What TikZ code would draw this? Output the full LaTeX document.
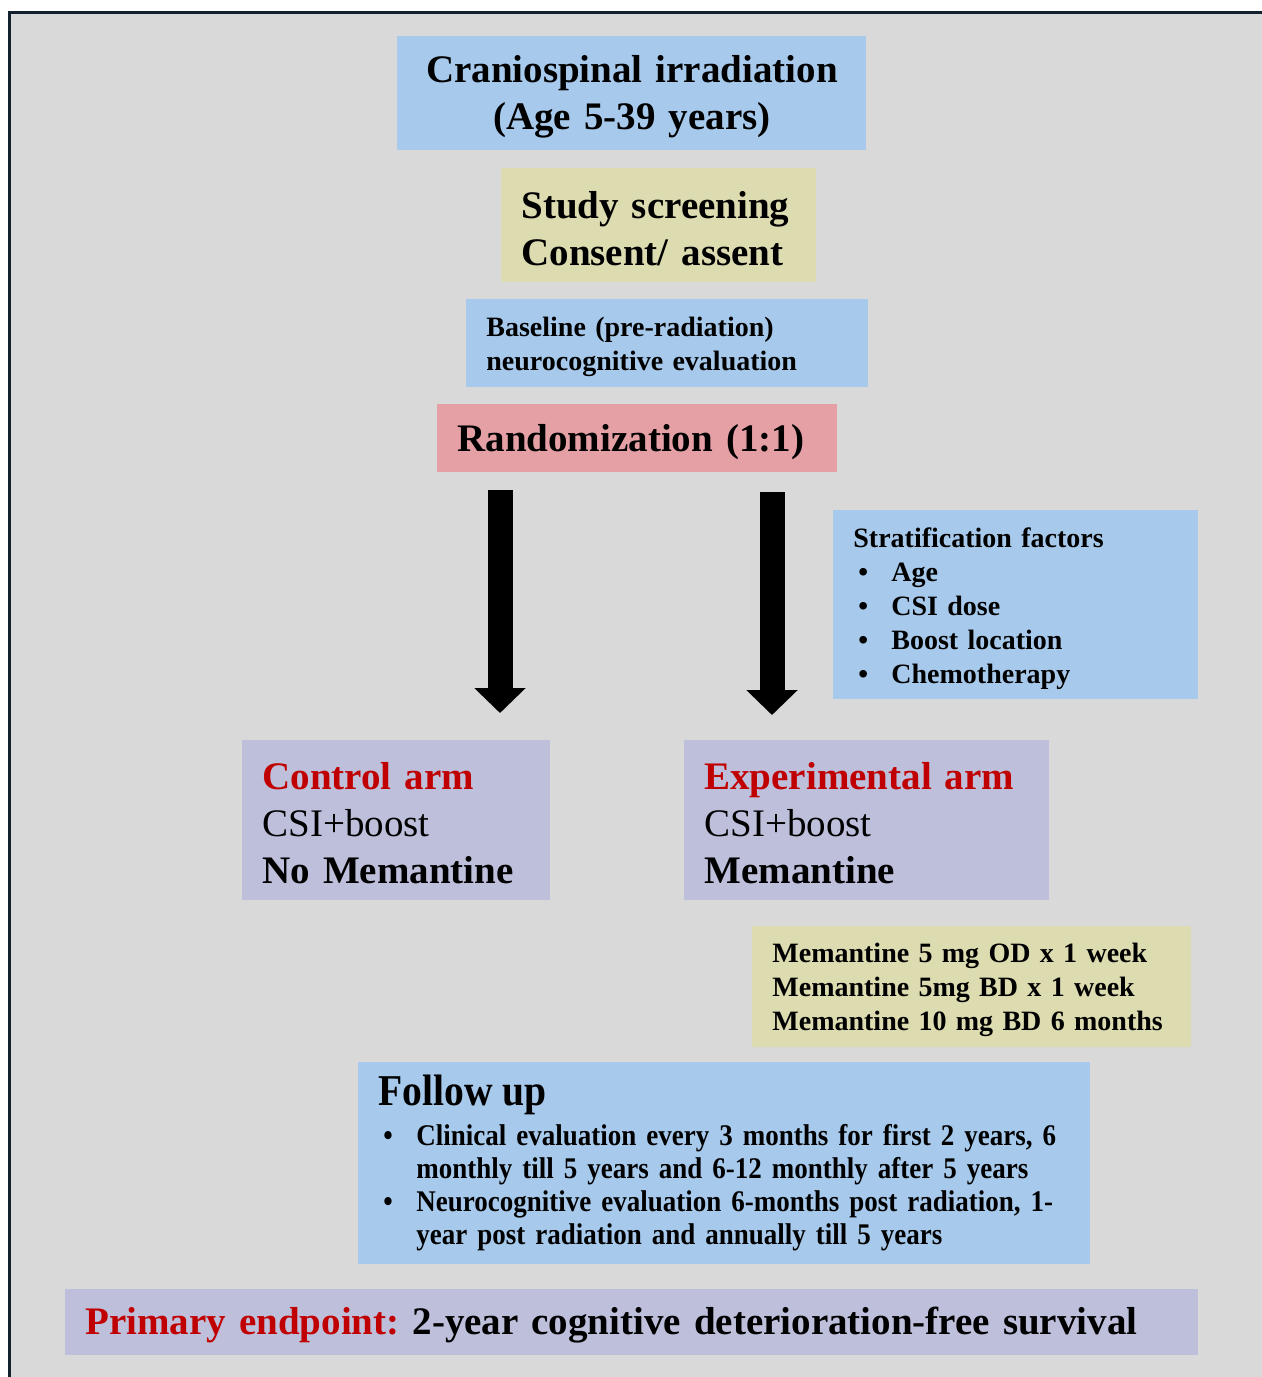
\documentclass[tikz,border=0pt]{standalone}
\usepackage{fontspec}
\setmainfont{Liberation Serif}
\newfontfamily\narrowserif[FakeStretch=0.9]{Liberation Serif}
\usepackage{xcolor}
\usepackage{tikz}
\usetikzlibrary{arrows.meta}
\definecolor{bggray}{HTML}{D9D9D9}
\definecolor{framecol}{HTML}{13212E}
\definecolor{boxblue}{HTML}{A7CAEC}
\definecolor{boxyellow}{HTML}{DCDCB0}
\definecolor{boxpink}{HTML}{E5A0A6}
\definecolor{boxlilac}{HTML}{BDBFDB}
\definecolor{armred}{HTML}{C00000}
\newcommand{\bigtxt}{\fontsize{19.5}{23.5}\selectfont\bfseries}
\newcommand{\smalltxt}{\fontsize{14}{17}\selectfont\bfseries}
\newcommand{\blt}{\makebox[19pt][l]{\hspace{2.5pt}\textbullet}}
\newcommand{\topgap}{\rule{0pt}{\dimexpr\fontcharht\font`(+4pt\relax}}

\begin{document}
\frenchspacing
\begin{tikzpicture}[x=0.5pt,y=-0.5pt,
  box/.style={anchor=north west,inner xsep=10pt,inner ysep=0pt,align=left,execute at begin node=\topgap},
  fatarrow/.style={line width=12.5pt,draw=black,-{Triangle[width=25pt,length=12.5pt]}}]
\clip (0,0) rectangle (1262,1377);
\draw[line width=1.5pt,draw=framecol,fill=bggray] (9,12) rectangle (1300,1420);
\node[box,fill=boxblue,text width=214.5pt,minimum height=57pt,align=center,font=\bigtxt] (csi) at (397,36) {Craniospinal irradiation\\(Age 5-39 years)};
\node[box,fill=boxyellow,text width=137.5pt,minimum height=57pt,font=\bigtxt] (screen) at (501,168) {Study screening\\Consent/ assent};
\node[box,fill=boxblue,text width=181pt,minimum height=44pt,font=\smalltxt] (baseline) at (466,299) {Baseline (pre-radiation)\\neurocognitive evaluation};
\node[box,fill=boxpink,text width=180pt,minimum height=34pt,font=\bigtxt] (rand) at (437,404) {Randomization (1:1)};
\node[box,fill=boxblue,text width=162.5pt,minimum height=94.5pt,font=\smalltxt] (strat) at (833,510) {Stratification factors\\\blt Age\\\blt CSI dose\\\blt Boost location\\\blt Chemotherapy};
\node[box,fill=boxlilac,text width=134pt,minimum height=80pt,font=\bigtxt] (ctrl) at (242,740) {\textcolor{armred}{Control arm}\\{\mdseries CSI+boost}\\No Memantine};
\node[box,fill=boxlilac,text width=162.5pt,minimum height=80pt,font=\bigtxt] (expt) at (684,740) {\textcolor{armred}{Experimental arm}\\{\mdseries CSI+boost}\\Memantine};
\node[box,fill=boxyellow,text width=199.5pt,minimum height=60.5pt,font=\smalltxt] (dose) at (752,926) {Memantine 5 mg OD x 1 week\\Memantine 5mg BD x 1 week\\Memantine 10 mg BD 6 months};
\node[box,fill=boxblue,text width=346pt,minimum height=101pt,font=\narrowserif\bfseries\fontsize{15}{16.5}\selectfont] (follow) at (358,1062) {{\fontsize{22}{24}\selectfont Follow up}\\[3.5pt]
\blt Clinical evaluation every 3 months for first 2 years, 6\\
\hspace*{19pt}monthly till 5 years and 6-12 monthly after 5 years\\
\blt Neurocognitive evaluation 6-months post radiation, 1-\\
\hspace*{19pt}year post radiation and annually till 5 years};
\node[box,fill=boxlilac,text width=546.5pt,minimum height=33pt,font=\bigtxt] (endpt) at (65,1289) {\textcolor{armred}{Primary endpoint:} 2-year cognitive deterioration-free survival};
\coordinate (ltop) at (500,490);
\coordinate (lbot) at (500,713);
\coordinate (rtop) at (772,492);
\coordinate (rbot) at (772,715);
\draw[fatarrow] (ltop) -- (lbot);
\draw[fatarrow] (rtop) -- (rbot);
\end{tikzpicture}
\end{document}
